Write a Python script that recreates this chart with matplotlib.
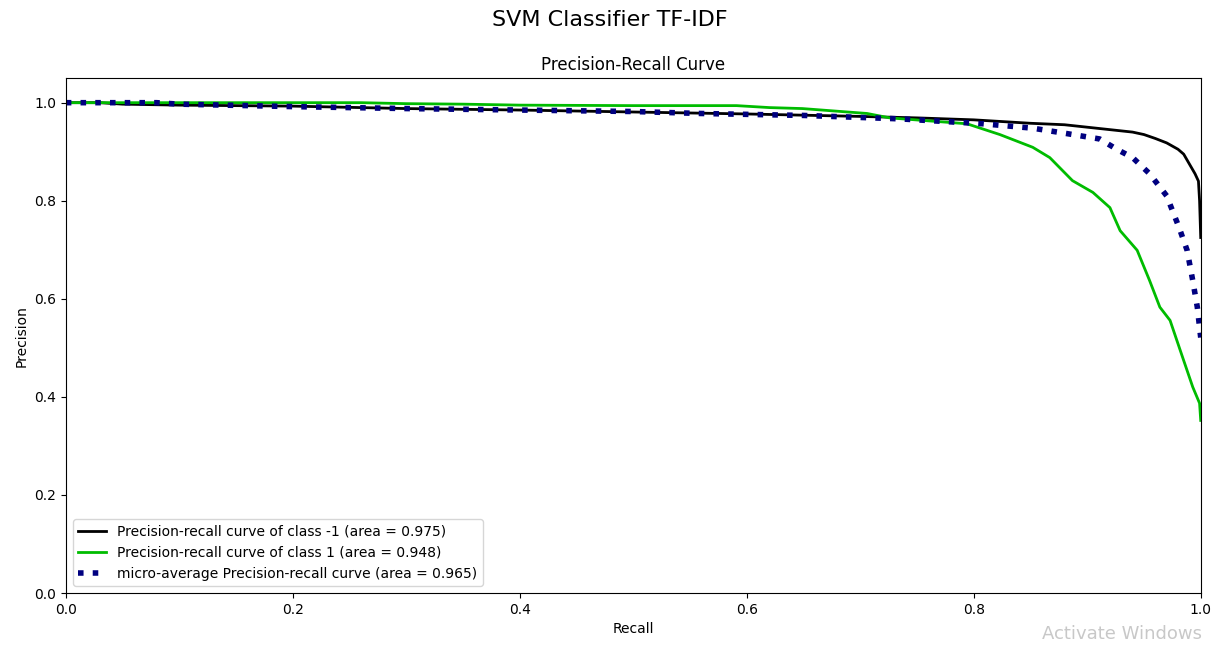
import matplotlib
matplotlib.use('Agg')
import matplotlib.pyplot as plt

# recall / precision points
recall_neg = [0.0, 0.03, 0.05, 0.1, 0.2, 0.3, 0.4, 0.5, 0.6, 0.7, 0.75, 0.8, 0.85, 0.88,
              0.9, 0.92, 0.94, 0.95, 0.96, 0.97, 0.98, 0.985, 0.99, 0.995, 0.998, 0.999, 1.0]
precision_neg = [1.0, 1.0, 0.997, 0.995, 0.993, 0.988, 0.985, 0.981, 0.977, 0.972, 0.969, 0.965,
                 0.958, 0.955, 0.950, 0.945, 0.940, 0.935, 0.927, 0.918, 0.905, 0.895, 0.875,
                 0.855, 0.84, 0.80, 0.725]

recall_pos = [0.0, 0.1, 0.2, 0.26, 0.3, 0.35, 0.4, 0.5, 0.591, 0.62, 0.649, 0.706, 0.726,
              0.76, 0.794, 0.823, 0.852, 0.867, 0.887, 0.905, 0.92, 0.929, 0.944, 0.955,
              0.964, 0.973, 0.984, 0.993, 0.999, 1.0]
precision_pos = [1.0, 1.0, 1.0, 1.0, 0.998, 0.997, 0.995, 0.994, 0.994, 0.99, 0.988, 0.978,
                 0.969, 0.963, 0.957, 0.935, 0.909, 0.888, 0.841, 0.817, 0.786, 0.739, 0.699,
                 0.637, 0.583, 0.556, 0.481, 0.42, 0.387, 0.352]

recall_micro = [0.0, 0.08, 0.1, 0.2, 0.3, 0.4, 0.5, 0.559, 0.65, 0.735, 0.808, 0.852, 0.882,
                0.911, 0.926, 0.94, 0.955, 0.97, 0.981, 0.988, 0.993, 0.997, 1.0]
precision_micro = [1.0, 1.0, 0.997, 0.992, 0.988, 0.985, 0.982, 0.978, 0.974, 0.967, 0.957,
                   0.948, 0.937, 0.926, 0.905, 0.888, 0.855, 0.81, 0.745, 0.699, 0.637,
                   0.583, 0.521]

legend_labels = ['Precision-recall curve of class -1 (area = 0.975)',
                 'Precision-recall curve of class 1 (area = 0.948)',
                 'micro-average Precision-recall curve (area = 0.965)']

fig = plt.figure(figsize=(12.19, 6.46), dpi=100)
ax = fig.add_axes([0.054, 0.082, 0.931, 0.797])

cmap = plt.cm.nipy_spectral
ax.plot(recall_neg, precision_neg, lw=2, color=cmap(0.0), label=legend_labels[0])
ax.plot(recall_pos, precision_pos, lw=2, color=cmap(0.5), label=legend_labels[1])
ax.plot(recall_micro, precision_micro, lw=4, ls=':', color='navy', label=legend_labels[2])

ax.set_xlim(0.0, 1.0)
ax.set_ylim(0.0, 1.05)
ax.set_xlabel('Recall', fontsize=10)
ax.set_ylabel('Precision', fontsize=10)
ax.set_title('Precision-Recall Curve', fontsize=12, pad=6)
ax.tick_params(labelsize=10)
ax.legend(loc='lower left', fontsize=10)

fig.suptitle('SVM Classifier TF-IDF', fontsize=16, y=0.985)
fig.text(0.986, 0.005, 'Activate Windows', ha='right', va='bottom',
         fontsize=13, color='#c8c8c8')

fig.savefig('out.png', dpi=100)
